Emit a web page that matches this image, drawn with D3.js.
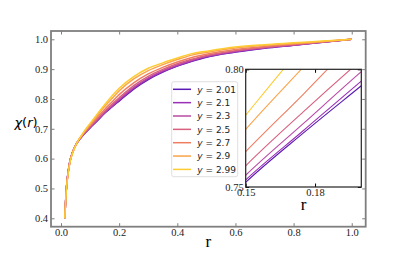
<!DOCTYPE html>
<html lang="en">
<head>
<meta charset="UTF-8">
<title>chi(r) curves</title>
<script src="https://cdnjs.cloudflare.com/ajax/libs/d3/7.8.5/d3.min.js"></script>
<style>
    body { margin: 0; padding: 0; background: #fff; }
    svg { display: block; }
    .tick text { font-family: "Liberation Serif", "Times New Roman", serif; font-size: 10.5px; fill: #222; }
</style>
</head>
<body>
<div id="chart"></div>
<script>
    // data
    const rVals = [0.013, 0.015, 0.017, 0.02, 0.025, 0.03, 0.04, 0.05, 0.06, 0.07, 0.08, 0.1, 0.125,
        0.15, 0.175, 0.2, 0.25, 0.3, 0.35, 0.4, 0.45, 0.5, 0.6, 0.7, 0.8, 0.9, 1.0];
    const chi201 = [0.400, 0.440, 0.478, 0.518, 0.558, 0.588, 0.622, 0.644, 0.660, 0.672, 0.683, 0.703, 0.727,
        0.752, 0.773, 0.793, 0.833, 0.865, 0.890, 0.910, 0.926, 0.940, 0.957, 0.970, 0.980, 0.990, 1.000];
    const chi21 = [0.400, 0.440, 0.478, 0.518, 0.558, 0.588, 0.622, 0.644, 0.660, 0.672, 0.683, 0.704, 0.728,
        0.753, 0.774, 0.795, 0.835, 0.867, 0.892, 0.911, 0.927, 0.941, 0.958, 0.971, 0.980, 0.990, 1.000];
    const chi23 = [0.400, 0.440, 0.477, 0.517, 0.557, 0.587, 0.622, 0.644, 0.660, 0.673, 0.684, 0.705, 0.730,
        0.755, 0.777, 0.799, 0.839, 0.871, 0.895, 0.914, 0.930, 0.943, 0.960, 0.972, 0.981, 0.991, 1.000];
    const chi25 = [0.400, 0.439, 0.477, 0.516, 0.557, 0.587, 0.621, 0.644, 0.661, 0.673, 0.686, 0.707, 0.733,
        0.759, 0.782, 0.804, 0.845, 0.876, 0.899, 0.918, 0.933, 0.946, 0.962, 0.973, 0.982, 0.991, 1.000];
    const chi27 = [0.400, 0.439, 0.476, 0.515, 0.556, 0.586, 0.621, 0.644, 0.661, 0.675, 0.688, 0.711, 0.739,
        0.765, 0.7895, 0.8145, 0.854, 0.884, 0.906, 0.924, 0.939, 0.950, 0.966, 0.976, 0.984, 0.992, 1.000];
    const chi29 = [0.400, 0.438, 0.475, 0.513, 0.554, 0.585, 0.620, 0.643, 0.662, 0.676, 0.690, 0.715, 0.745,
        0.7745, 0.801, 0.827, 0.867, 0.895, 0.915, 0.932, 0.947, 0.956, 0.971, 0.980, 0.986, 0.993, 1.000];
    const chi299 = [0.400, 0.438, 0.474, 0.512, 0.553, 0.584, 0.619, 0.643, 0.662, 0.677, 0.692, 0.718, 0.750,
        0.7805, 0.810, 0.836, 0.875, 0.903, 0.921, 0.937, 0.952, 0.960, 0.974, 0.982, 0.988, 0.994, 1.000];

    const yParams = ["2.01", "2.1", "2.3", "2.5", "2.7", "2.9", "2.99"];
    const xTicks = [0.0, 0.2, 0.4, 0.6, 0.8, 1.0];
    const yTicks = [0.4, 0.5, 0.6, 0.7, 0.8, 0.9, 1.0];
    const insetXTicks = [0.15, 0.18];
    const insetYTicks = [0.75, 0.80];

    const allChi = [chi201, chi21, chi23, chi25, chi27, chi29, chi299];
    const series = yParams.map((p, i) => ({
        label: p,
        points: rVals.map((r, j) => [r, allChi[i][j]])
    }));

    const colors = ["#5b1ab4", "#9a2fb8", "#ba4aa6", "#d9607f", "#ef7d62", "#fba44a", "#fdcb32"];

    const width = 407, height = 255;
    const svg = d3.select("#chart").append("svg")
        .attr("width", width).attr("height", height);

    // main axes box
    const M = { left: 51, right: 365.7, top: 31, bottom: 226.7 };
    const x = d3.scaleLinear().domain([-0.0344, 1.048]).range([M.left, M.right]);
    const y = d3.scaleLinear().domain([0.3718, 1.0278]).range([M.bottom, M.top]);

    const defs = svg.append("defs");
    defs.append("clipPath").attr("id", "clipMain").append("rect")
        .attr("x", M.left).attr("y", M.top)
        .attr("width", M.right - M.left).attr("height", M.bottom - M.top);

    const line = d3.line().x(d => x(d[0])).y(d => y(d[1])).curve(d3.curveMonotoneX);

    svg.append("g").attr("clip-path", "url(#clipMain)")
        .selectAll("path").data(series).join("path")
        .attr("fill", "none")
        .attr("stroke", (d, i) => colors[i])
        .attr("stroke-width", 1.5)
        .attr("d", d => line(d.points));

    const spineGrey = "#7f7f7f";
    const tick = 3.5;

    svg.append("g").attr("transform", `translate(${M.left},0)`)
        .call(d3.axisLeft(y).tickValues(yTicks).tickFormat(d3.format(".1f")).tickSize(-tick).tickPadding(3))
        .call(g => g.select(".domain").remove())
        .call(g => g.selectAll(".tick line").attr("stroke", spineGrey));
    svg.append("g").attr("transform", `translate(${M.right},0)`)
        .call(d3.axisRight(y).tickValues(yTicks).tickFormat("").tickSize(-tick))
        .call(g => g.select(".domain").remove())
        .call(g => g.selectAll(".tick line").attr("stroke", spineGrey));
    svg.append("g").attr("transform", `translate(0,${M.bottom})`)
        .call(d3.axisBottom(x).tickValues(xTicks).tickFormat(d3.format(".1f")).tickSize(-tick).tickPadding(2))
        .call(g => g.select(".domain").remove())
        .call(g => g.selectAll(".tick line").attr("stroke", spineGrey));
    svg.append("g").attr("transform", `translate(0,${M.top})`)
        .call(d3.axisTop(x).tickValues(xTicks).tickFormat("").tickSize(-tick))
        .call(g => g.select(".domain").remove())
        .call(g => g.selectAll(".tick line").attr("stroke", spineGrey));

    svg.append("rect")
        .attr("x", M.left).attr("y", M.top)
        .attr("width", M.right - M.left).attr("height", M.bottom - M.top)
        .attr("fill", "none").attr("stroke", spineGrey).attr("stroke-width", 1.8);

    // axis labels
    svg.append("text")
        .attr("x", (M.left + M.right) / 2).attr("y", 247)
        .attr("text-anchor", "middle")
        .style("font-family", "'Liberation Serif', serif").style("font-size", "17px")
        .text("r");
    const yl = svg.append("text")
        .attr("x", 26).attr("y", 127)
        .attr("text-anchor", "middle")
        .style("font-family", "'DejaVu Sans', sans-serif").style("font-size", "13px");
    yl.append("tspan").style("font-style", "italic").text("χ");
    yl.append("tspan").text("(");
    yl.append("tspan").style("font-style", "italic").text("r");
    yl.append("tspan").text(")");

    // legend
    const lg = svg.append("g");
    lg.append("rect")
        .attr("x", 171.7).attr("y", 81.7).attr("width", 66).attr("height", 95)
        .attr("rx", 2).attr("fill", "#fff").attr("fill-opacity", 0.8)
        .attr("stroke", "#d6d6d6").attr("stroke-width", 0.8);
    const rows = lg.selectAll("g.row").data(series).join("g")
        .attr("class", "row")
        .attr("transform", (d, i) => `translate(0,${89.3 + i * 13.35})`);
    rows.append("line")
        .attr("x1", 173).attr("x2", 191)
        .attr("stroke", (d, i) => colors[i]).attr("stroke-width", 1.5);
    const lt = rows.append("text")
        .attr("x", 197.3).attr("y", 3.3)
        .style("font-family", "'DejaVu Sans', sans-serif").style("font-size", "9px").style("fill", "#222");
    lt.append("tspan").style("font-style", "italic").text("y");
    lt.append("tspan").text(d => " = " + d.label);

    // inset
    const I = { left: 245.7, right: 361.3, top: 69.3, bottom: 187 };
    const xi = d3.scaleLinear().domain([0.15, 0.2]).range([I.left, I.right]);
    const yi = d3.scaleLinear().domain([0.75, 0.80]).range([I.bottom, I.top]);
    defs.append("clipPath").attr("id", "clipInset").append("rect")
        .attr("x", I.left).attr("y", I.top)
        .attr("width", I.right - I.left).attr("height", I.bottom - I.top);

    svg.append("rect")
        .attr("x", I.left).attr("y", I.top)
        .attr("width", I.right - I.left).attr("height", I.bottom - I.top)
        .attr("fill", "#fff");

    const lineI = d3.line().x(d => xi(d[0])).y(d => yi(d[1])).curve(d3.curveMonotoneX);
    svg.append("g").attr("clip-path", "url(#clipInset)")
        .selectAll("path").data(series).join("path")
        .attr("fill", "none")
        .attr("stroke", (d, i) => colors[i])
        .attr("stroke-width", 1.1)
        .attr("d", d => lineI(d.points));

    const insetStroke = "#222";
    svg.append("g").attr("transform", `translate(${I.left},0)`)
        .call(d3.axisLeft(yi).tickValues(insetYTicks).tickFormat(d3.format(".2f")).tickSize(-tick).tickPadding(2))
        .call(g => g.select(".domain").remove());
    svg.append("g").attr("transform", `translate(${I.right},0)`)
        .call(d3.axisRight(yi).tickValues(insetYTicks).tickFormat("").tickSize(-tick))
        .call(g => g.select(".domain").remove());
    svg.append("g").attr("transform", `translate(0,${I.bottom})`)
        .call(d3.axisBottom(xi).tickValues(insetXTicks).tickFormat(d3.format(".2f")).tickSize(-tick).tickPadding(2))
        .call(g => g.select(".domain").remove());
    svg.append("g").attr("transform", `translate(0,${I.top})`)
        .call(d3.axisTop(xi).tickValues(insetXTicks).tickFormat("").tickSize(-tick))
        .call(g => g.select(".domain").remove());

    svg.append("rect")
        .attr("x", I.left).attr("y", I.top)
        .attr("width", I.right - I.left).attr("height", I.bottom - I.top)
        .attr("fill", "none").attr("stroke", insetStroke).attr("stroke-width", 1.2);

    svg.append("text")
        .attr("x", (I.left + I.right) / 2).attr("y", 209.5)
        .attr("text-anchor", "middle")
        .style("font-family", "'Liberation Serif', serif").style("font-size", "17px")
        .text("r");
</script>
</body>
</html>
